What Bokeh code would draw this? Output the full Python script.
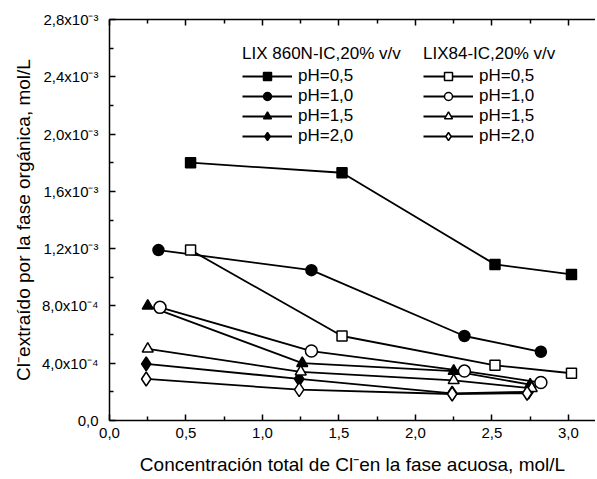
from bokeh.plotting import figure
from bokeh.models import (FixedTicker, LinearAxis, Legend, LegendItem, Range1d,
                          CustomLabelingPolicy)
from bokeh.embed import file_html
from bokeh.resources import INLINE

# ---- data ----
x_ticks = [0.0, 0.5, 1.0, 1.5, 2.0, 2.5, 3.0]
x_minor = [0.25, 0.75, 1.25, 1.75, 2.25, 2.75]
x_tick_labels = ["0,0", "0,5", "1,0", "1,5", "2,0", "2,5", "3,0"]
y_ticks = [0.0, 0.4e-3, 0.8e-3, 1.2e-3, 1.6e-3, 2.0e-3, 2.4e-3, 2.8e-3]
y_minor = [0.2e-3, 0.6e-3, 1.0e-3, 1.4e-3, 1.8e-3, 2.2e-3, 2.6e-3]
y_tick_labels = ["0,0", "4,0x10⁻⁴", "8,0x10⁻⁴", "1,2x10⁻³", "1,6x10⁻³",
                 "2,0x10⁻³", "2,4x10⁻³", "2,8x10⁻³"]

# LIX860N-IC, 20% v/v (filled markers)
lix860_ph05_x = [0.53, 1.52, 2.52, 3.02]
lix860_ph05_y = [1.80e-3, 1.73e-3, 1.09e-3, 1.02e-3]
lix860_ph10_x = [0.32, 1.32, 2.32, 2.82]
lix860_ph10_y = [1.19e-3, 1.05e-3, 0.59e-3, 0.48e-3]
lix860_ph15_x = [0.25, 1.26, 2.25, 2.75]
lix860_ph15_y = [0.80e-3, 0.40e-3, 0.345e-3, 0.25e-3]
lix860_ph20_x = [0.24, 1.24, 2.24, 2.74]
lix860_ph20_y = [0.395e-3, 0.29e-3, 0.19e-3, 0.20e-3]

# LIX84-IC, 20% v/v (open markers)
lix84_ph05_x = [0.53, 1.52, 2.52, 3.02]
lix84_ph05_y = [1.19e-3, 0.59e-3, 0.385e-3, 0.33e-3]
lix84_ph10_x = [0.33, 1.32, 2.32, 2.82]
lix84_ph10_y = [0.79e-3, 0.485e-3, 0.345e-3, 0.265e-3]
lix84_ph15_x = [0.25, 1.25, 2.25, 2.76]
lix84_ph15_y = [0.50e-3, 0.34e-3, 0.28e-3, 0.225e-3]
lix84_ph20_x = [0.24, 1.24, 2.24, 2.73]
lix84_ph20_y = [0.29e-3, 0.215e-3, 0.185e-3, 0.19e-3]

ph_labels = ["pH=0,5", "pH=1,0", "pH=1,5", "pH=2,0"]
title_860 = "LIX 860N-IC,20% v/v"
title_84 = "LIX84-IC,20% v/v"

FONT = "Liberation Sans"

p = figure(width=595, height=477, output_backend="svg", toolbar_location=None,
           x_range=Range1d(0, 3.177), y_range=Range1d(0, 2.8e-3),
           min_border_left=109, min_border_right=0, min_border_top=19,
           min_border_bottom=57)
p.outline_line_color = None
p.xgrid.grid_line_color = None
p.ygrid.grid_line_color = None
p.background_fill_color = "white"

for ax in (p.xaxis[0], p.yaxis[0]):
    ax.major_tick_in = 6
    ax.major_tick_out = 0
    ax.minor_tick_in = 4
    ax.minor_tick_out = 0
    ax.axis_line_width = 1.5
    ax.major_tick_line_width = 1.5
    ax.minor_tick_line_width = 1.5
    ax.major_label_text_font = FONT
    ax.major_label_text_font_size = "15px"
    ax.major_label_text_color = "black"
    ax.axis_label_text_font = FONT
    ax.axis_label_text_font_size = "19px"
    ax.axis_label_text_font_style = "normal"
    ax.axis_label_text_color = "black"

p.xaxis[0].ticker = FixedTicker(ticks=x_ticks, minor_ticks=x_minor)
p.xaxis[0].major_label_overrides = dict(zip(x_ticks, x_tick_labels))
p.xaxis[0].major_label_standoff = 7
p.xaxis[0].axis_label = "Concentración total de Cl⁻en la fase acuosa, mol/L"
p.xaxis[0].axis_label_standoff = 13

p.yaxis[0].ticker = FixedTicker(ticks=y_ticks, minor_ticks=y_minor)
p.yaxis[0].major_label_overrides = dict(zip(y_ticks, y_tick_labels))
p.yaxis[0].major_label_standoff = 11
p.yaxis[0].axis_label = "Cl⁻extraído por la fase orgánica, mol/L"
p.yaxis[0].axis_label_standoff = 5

no_labels = CustomLabelingPolicy(code="""
for (let i = 0; i < indices.size; i++) { indices.unset(i) }
return indices
""")
top = LinearAxis(ticker=FixedTicker(ticks=x_ticks, minor_ticks=x_minor),
                 major_tick_in=6, major_tick_out=0, minor_tick_in=4, minor_tick_out=0,
                 axis_line_width=1.5, major_tick_line_width=1.5,
                 minor_tick_line_width=1.5, major_label_text_font_size="1px",
                 major_label_standoff=0, major_label_policy=no_labels)
p.add_layout(top, "above")

series = [
    (lix860_ph05_x, lix860_ph05_y, "square", 10, "black"),
    (lix860_ph10_x, lix860_ph10_y, "circle", 11, "black"),
    (lix860_ph15_x, lix860_ph15_y, "triangle", 11, "black"),
    (lix860_ph20_x, lix860_ph20_y, "diamond", 14, "black"),
    (lix84_ph05_x, lix84_ph05_y, "square", 10, "white"),
    (lix84_ph10_x, lix84_ph10_y, "circle", 12, "white"),
    (lix84_ph15_x, lix84_ph15_y, "triangle", 11, "white"),
    (lix84_ph20_x, lix84_ph20_y, "diamond", 14, "white"),
]

renderers = []
for xs, ys, marker, size, fill in series:
    lr = p.line(xs, ys, line_color="black", line_width=1.8)
    renderers.append([lr])
for i, (xs, ys, marker, size, fill) in enumerate(series):
    sr = p.scatter(xs, ys, marker=marker, size=size, fill_color=fill,
                   line_color="black", line_width=1.5)
    renderers[i].append(sr)

def make_legend(title, rends, loc):
    items = [LegendItem(label=lab, renderers=r) for lab, r in zip(ph_labels, rends)]
    lg = Legend(items=items, location=loc, title=title,
                title_text_font=FONT, title_text_font_size="17px",
                title_text_font_style="normal", title_text_color="black",
                title_standoff=2,
                label_text_font=FONT, label_text_font_size="17px",
                label_text_color="black", label_standoff=6,
                glyph_width=50, glyph_height=20, spacing=0,
                padding=0, margin=0, border_line_color=None,
                background_fill_alpha=0)
    return lg

p.add_layout(make_legend(title_860, renderers[:4], (133, 274)), "center")
p.add_layout(make_legend(title_84, renderers[4:], (314, 274)), "center")

open("out.html", "w").write(file_html(p, INLINE))
